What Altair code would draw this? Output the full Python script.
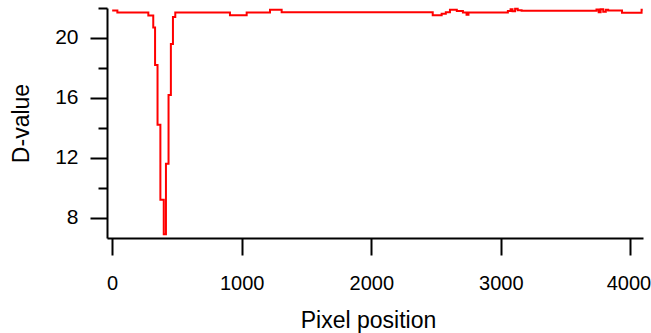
import altair as alt
import pandas as pd

# Pixel position (x) and D-value (y); drawn as a step line
px = [0, 40, 279, 317, 331, 350, 372, 398, 415, 435, 453, 469, 487,
      909, 1038, 1218, 1308, 2474, 2543, 2575, 2607, 2660, 2707, 2735, 2750,
      3054, 3075, 3090, 3110, 3130, 3160, 3738, 3755, 3770, 3790, 3810, 3828,
      3935, 4086, 4095]
dval = [21.83, 21.70, 21.50, 20.70, 18.20, 14.20, 9.20, 6.90, 11.60, 16.20, 19.60, 21.40, 21.70,
        21.52, 21.70, 21.88, 21.72, 21.52, 21.62, 21.72, 21.88, 21.80, 21.70, 21.55, 21.70,
        21.80, 21.92, 21.78, 21.95, 21.85, 21.82, 21.90, 21.72, 21.92, 21.75, 21.88, 21.84,
        21.68, 21.88, 21.88]

x_ticks = [0, 1000, 2000, 3000, 4000]
y_ticks = [8, 10, 12, 14, 16, 18, 20, 22]

df = pd.DataFrame({"px": px, "dval": dval})

FONT = "Liberation Sans"

chart = (
    alt.Chart(df)
    .mark_line(color="#ff0000", strokeWidth=2, interpolate="step-after")
    .encode(
        x=alt.X(
            "px:Q",
            scale=alt.Scale(domain=[-40, 4097], nice=False, zero=False),
            axis=alt.Axis(
                title="Pixel position",
                values=x_ticks,
                format="d",
                grid=False,
                tickSize=17,
                tickWidth=2,
                domainWidth=2,
                domainColor="black",
                tickColor="black",
                labelPadding=18,
                labelFont=FONT,
                labelFontSize=20,
                labelColor="black",
                labelOffset={"condition": {"test": "datum.value == 4000", "value": -2}, "value": 0},
                titleFont=FONT,
                titleFontSize=23,
                titleFontWeight="normal",
                titleColor="black",
                titleX=261,
                titleY=89,
                titleBaseline="alphabetic",
            ),
        ),
        y=alt.Y(
            "dval:Q",
            scale=alt.Scale(domain=[6.65, 22.0], nice=False, zero=False),
            axis=alt.Axis(
                title="D-value",
                values=y_ticks,
                labelExpr="datum.value % 4 == 0 ? datum.label : ''",
                grid=False,
                tickSize={"condition": {"test": "datum.value % 4 == 0", "value": 17}, "value": 9},
                tickWidth=2,
                domainWidth=2,
                domainColor="black",
                tickColor="black",
                labelPadding=12,
                labelFont=FONT,
                labelFontSize=21,
                labelColor="black",
                titleFont=FONT,
                titleFontSize=23,
                titleFontWeight="normal",
                titleColor="black",
                titleX=-79,
                titleBaseline="alphabetic",
            ),
        ),
    )
    .properties(
        width=536,
        height=230,
        autosize=alt.AutoSizeParams(type="none"),
        padding={"left": 107, "top": 8, "right": 8, "bottom": 95},
    )
    .configure_view(stroke=None)
)

chart.save("out.html", embed_options={"renderer": "svg", "actions": False})
